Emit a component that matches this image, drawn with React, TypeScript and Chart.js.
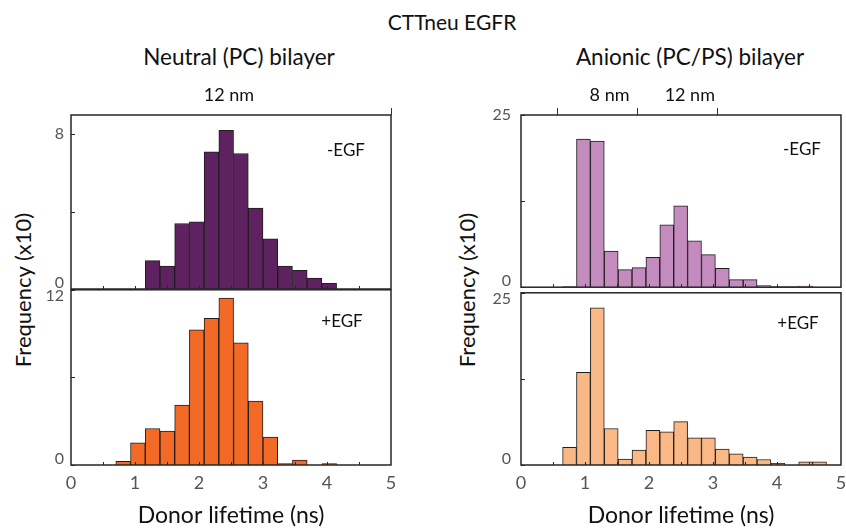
import React, { useEffect, useRef } from "react";
import { Chart, registerables } from "chart.js";

Chart.register(...registerables);

const FONT = "Lato, 'Open Sans', sans-serif";

// ---- Data (Frequency x10) ----
const NEUTRAL_BINS = [0.815, 1.045, 1.275, 1.505, 1.735, 1.965, 2.195, 2.425, 2.655, 2.885, 3.115, 3.345, 3.575, 3.805, 4.035];
const NEUTRAL_MINUS_EGF = [null, null, 1.47, 1.18, 3.39, 3.48, 7.1, 8.21, 7.01, 4.19, 2.6, 1.18, 0.97, 0.57, 0.29];
const NEUTRAL_PLUS_EGF = [0.25, 1.52, 2.5, 2.32, 4.11, 9.25, 10.04, 11.43, 8.36, 4.38, 1.91, 0.1, 0.34, null, 0.1];

const ANIONIC_BINS = [0.7585, 0.9755, 1.1925, 1.4095, 1.6265, 1.8435, 2.0605, 2.2775, 2.4945, 2.7115, 2.9285, 3.1455, 3.3625, 3.5795, 3.7965, 4.0135, 4.2305, 4.4475, 4.6645];
const ANIONIC_MINUS_EGF = [0.1, 21.5, 21.2, 5.24, 2.55, 2.84, 4.33, 9.05, 11.8, 6.74, 4.72, 2.74, 1.11, 1.11, 0.24, 0.1, 0.1, 0.15, null];
const ANIONIC_PLUS_EGF = [2.56, 13.45, 22.8, 5.3, 0.85, 2.18, 5.02, 4.83, 6.3, 3.93, 3.93, 2.32, 1.61, 1.14, 0.8, 0.24, null, 0.47, 0.47];

const X_TICKS = [0, 1, 2, 3, 4, 5];
const X_MINOR_TICKS = [0.5, 1, 1.5, 2, 2.5, 3, 3.5, 4, 4.5];

const NEUTRAL_TOP_TICKS = [2.375];
const NEUTRAL_TOP_LABELS = ["12 nm"];
const ANIONIC_TOP_TICKS = [1.196, 2.45];
const ANIONIC_TOP_LABELS = ["8 nm", "12 nm"];

const Y_TICKS_NEUTRAL_MINUS = [0, 4, 8];
const Y_TICKS_NEUTRAL_PLUS = [0, 6, 12];
const Y_TICKS_ANIONIC = [0, 12.5, 25];

const COLORS = {
  neutralMinus: "#5f2261",
  neutralPlus: "#f26a26",
  anionicMinus: "#c48bbf",
  anionicPlus: "#f9b886",
};

type Spec = {
  left: number; top: number; width: number; height: number;
  area: { l: number; r: number; t: number; b: number };
  bins: number[]; values: (number | null)[]; color: string;
  yMax: number; yTicks: number[]; yLabels: Record<string, string | string[]>; yPad: number;
  topTicks?: number[]; topLabels?: string[]; topOffset?: number;
  showX: boolean; tag: string; tagX: number; tagY: number;
};

const framePlugin = {
  id: "frame",
  afterDatasetsDraw(chart: any, _args: any, opts: any) {
    const { ctx, chartArea: a, scales } = chart;
    ctx.save();
    ctx.strokeStyle = "#262626";
    ctx.lineWidth = 1;
    ctx.beginPath();
    X_MINOR_TICKS.forEach((v) => {
      const px = Math.round(scales.x.getPixelForValue(v)) + 0.5;
      ctx.moveTo(px, a.bottom);
      ctx.lineTo(px, a.bottom - 3);
    });
    (opts.yTicks || []).forEach((v: number) => {
      const py = Math.round(scales.y.getPixelForValue(v)) + 0.5;
      ctx.moveTo(a.left, py);
      ctx.lineTo(a.left + 4, py);
    });
    ctx.stroke();
    ctx.lineWidth = 1.5;
    ctx.strokeRect(a.left, a.top, a.right - a.left, a.bottom - a.top);
    ctx.fillStyle = "#111";
    ctx.font = `17px ${FONT}`;
    ctx.textAlign = "center";
    ctx.textBaseline = "middle";
    ctx.fillText(opts.tag, a.left + opts.tagX, a.top + opts.tagY);
    ctx.restore();
  },
};

function buildConfig(s: Spec): any {
  const scales: any = {
    x: {
      type: "linear",
      position: "bottom",
      min: 0,
      max: 5,
      offset: false,
      afterBuildTicks: (sc: any) => { sc.ticks = X_TICKS.map((v) => ({ value: v })); },
      ticks: {
        display: s.showX,
        padding: 7,
        color: "#555",
        font: { family: FONT, size: 18 },
        maxRotation: 0,
        autoSkip: false,
        callback: (v: any) => String(v),
      },
      grid: { display: false, drawTicks: false },
      border: { display: false },
      title: s.showX
        ? { display: true, text: "Donor lifetime (ns)", color: "#111", font: { family: FONT, size: 23 }, padding: { top: 0, bottom: 0 } }
        : { display: false },
      afterFit: (sc: any) => { sc.height = s.height - s.area.b; },
    },
    y: {
      type: "linear",
      position: "left",
      min: 0,
      max: s.yMax,
      afterBuildTicks: (sc: any) => { sc.ticks = s.yTicks.map((v) => ({ value: v })); },
      ticks: {
        padding: s.yPad,
        color: "#555",
        font: { family: FONT, size: 16, lineHeight: 0.8 },
        callback: (v: any) => s.yLabels[String(v)] ?? "",
      },
      grid: { display: false, drawTicks: false },
      border: { display: false },
      afterFit: (sc: any) => { sc.width = s.area.l; },
    },
  };
  if (s.topTicks) {
    scales.xTop = {
      type: "linear",
      position: "top",
      min: 0,
      max: 5,
      offset: false,
      afterBuildTicks: (sc: any) => { sc.ticks = s.topTicks!.map((v) => ({ value: v })); },
      ticks: {
        padding: 2,
        color: "#111",
        font: { family: FONT, size: 18 },
        maxRotation: 0,
        autoSkip: false,
        labelOffset: s.topOffset || 0,
        callback: (_v: any, i: number) => s.topLabels![i],
      },
      grid: { display: true, drawOnChartArea: false, drawTicks: true, tickLength: 7, color: "#333", lineWidth: 1 },
      border: { display: false },
      afterFit: (sc: any) => { sc.height = s.area.t; },
    };
  }
  return {
    type: "bar",
    data: {
      datasets: [
        {
          data: s.bins.map((x, i) => ({ x, y: s.values[i] })),
          xAxisID: "x",
          yAxisID: "y",
          backgroundColor: s.color,
          borderColor: "#1e1e1e",
          borderWidth: 1,
          borderSkipped: "start",
          barPercentage: 1,
          categoryPercentage: 1,
          grouped: false,
        },
      ],
    },
    options: {
      responsive: false,
      animation: false,
      devicePixelRatio: 1,
      layout: {
        padding: { left: 0, right: s.width - s.area.r, top: s.topTicks ? 0 : s.area.t, bottom: 0 },
      },
      plugins: {
        legend: { display: false },
        tooltip: { enabled: false },
        frame: { tag: s.tag, tagX: s.tagX, tagY: s.tagY, yTicks: s.yTicks },
      },
      scales,
    },
    plugins: [framePlugin],
  };
}

const PANELS: Spec[] = [
  {
    left: 0, top: 0, width: 423, height: 310,
    area: { l: 71, r: 391, t: 115, b: 289 },
    bins: NEUTRAL_BINS, values: NEUTRAL_MINUS_EGF, color: COLORS.neutralMinus,
    yMax: 9, yTicks: Y_TICKS_NEUTRAL_MINUS, yLabels: { "0": ["0", ""], "8": "8" }, yPad: 7,
    topTicks: NEUTRAL_TOP_TICKS, topLabels: NEUTRAL_TOP_LABELS, topOffset: 6,
    showX: false, tag: "-EGF", tagX: 275, tagY: 36,
  },
  {
    left: 0, top: 270, width: 423, height: 259,
    area: { l: 71, r: 391, t: 19, b: 195 },
    bins: NEUTRAL_BINS, values: NEUTRAL_PLUS_EGF, color: COLORS.neutralPlus,
    yMax: 12, yTicks: Y_TICKS_NEUTRAL_PLUS, yLabels: { "0": ["0", ""], "12": ["", "12"] }, yPad: 7,
    showX: true, tag: "+EGF", tagX: 271, tagY: 32,
  },
  {
    left: 423, top: 0, width: 450, height: 310,
    area: { l: 98, r: 418, t: 115, b: 289 },
    bins: ANIONIC_BINS, values: ANIONIC_MINUS_EGF, color: COLORS.anionicMinus,
    yMax: 25, yTicks: Y_TICKS_ANIONIC, yLabels: { "0": ["0", ""], "25": "25" }, yPad: 10,
    topTicks: ANIONIC_TOP_TICKS, topLabels: ANIONIC_TOP_LABELS, topOffset: 12,
    showX: false, tag: "-EGF", tagX: 281, tagY: 35,
  },
  {
    left: 423, top: 270, width: 450, height: 259,
    area: { l: 98, r: 418, t: 19, b: 195 },
    bins: ANIONIC_BINS, values: ANIONIC_PLUS_EGF, color: COLORS.anionicPlus,
    yMax: 25, yTicks: Y_TICKS_ANIONIC, yLabels: { "0": ["0", ""], "25": ["", "25"] }, yPad: 10,
    showX: true, tag: "+EGF", tagX: 277, tagY: 31,
  },
];

function Panel({ spec }: { spec: Spec }) {
  const ref = useRef<HTMLCanvasElement>(null);
  useEffect(() => {
    const chart = new Chart(ref.current as HTMLCanvasElement, buildConfig(spec));
    return () => chart.destroy();
  }, [spec]);
  return (
    <canvas
      ref={ref}
      width={spec.width}
      height={spec.height}
      style={{ position: "absolute", left: spec.left, top: spec.top, width: spec.width, height: spec.height }}
    />
  );
}

function Label({ text, x, y, size, rotate }: { text: string; x: number; y: number; size: number; rotate?: boolean }) {
  return (
    <div
      style={{
        position: "absolute",
        left: x,
        top: y,
        transform: `translate(-50%, -50%)${rotate ? " rotate(-90deg)" : ""}`,
        whiteSpace: "nowrap",
        fontFamily: FONT,
        fontSize: size,
        lineHeight: 1,
        color: "#111",
      }}
    >
      {text}
    </div>
  );
}

export default function App() {
  return (
    <div style={{ position: "fixed", left: 0, top: 0, width: 846, height: 529, background: "#fff", overflow: "hidden" }}>
      <Label text="CTTneu EGFR" x={452} y={21} size={21} />
      <Label text="Neutral (PC) bilayer" x={239} y={57} size={22.5} />
      <Label text="Anionic (PC/PS) bilayer" x={690} y={57} size={22.5} />
      <Label text="Frequency (x10)" x={23} y={290} size={22} rotate />
      <Label text="Frequency (x10)" x={467} y={290} size={22} rotate />
      {PANELS.map((p, i) => (
        <Panel key={i} spec={p} />
      ))}
    </div>
  );
}
